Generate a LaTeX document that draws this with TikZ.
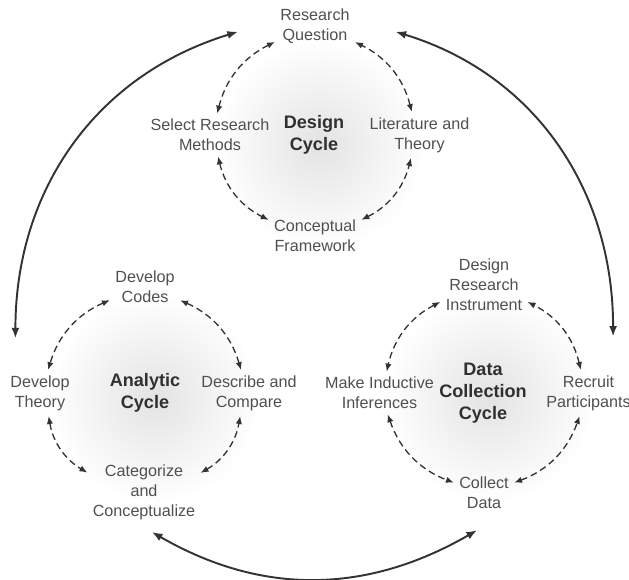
\documentclass[tikz,border=0pt]{standalone}
\usepackage{fontspec}
\setmainfont{Liberation Sans}
\usepackage{xcolor}
\usetikzlibrary{arrows.meta}
\tikzset{>={Latex[length=4.5pt,width=3.6pt]}}
\definecolor{stagegray}{HTML}{505050}
\definecolor{cyclegray}{HTML}{303030}
\definecolor{arrowgray}{HTML}{333333}

\begin{document}
\begin{tikzpicture}[x=0.02cm, y=0.02cm,
    stage/.style={align=center, text=stagegray, font=\fontsize{9.2}{11.3}\selectfont, inner sep=2pt},
    cyclename/.style={align=center, text=cyclegray, font=\bfseries\fontsize{10.3}{12.5}\selectfont},
    dasharrow/.style={<->, arrowgray, line width=0.75pt, dash pattern=on 3.8pt off 2.3pt, shorten <=1pt, shorten >=1pt},
    bigarrow/.style={<->, >={Latex[length=6pt,width=4.6pt]}, arrowgray, line width=1.1pt}]
  % Frame
  \fill[white] (0,0) rectangle (629,-579);
  \useasboundingbox (0,0) rectangle (629,-579);
  % Glows
  \shade[inner color=black!11, outer color=white] (320,-145) circle (105);
  \shade[inner color=black!11, outer color=white] (155,-398) circle (105);
  \shade[inner color=black!11, outer color=white] (490,-398) circle (105);

  % Design cycle
  \node[cyclename] (dcyc) at (314,-135) {Design\\Cycle};
  \node[stage] (rq)  at (315,-26.5) {Research\\Question};
  \node[stage] (srm) at (210,-135) {Select Research\\Methods};
  \node[stage] (lit) at (419.5,-135) {Literature and\\Theory};
  \node[stage] (cf)  at (315,-236) {Conceptual\\Framework};

  % Analytic cycle
  \node[cyclename] (acyc) at (145,-393) {Analytic\\Cycle};
  \node[stage] (dcodes)  at (145,-287) {Develop\\Codes};
  \node[stage] (dtheory) at (40,-393) {Develop\\Theory};
  \node[stage] (desc)    at (249,-393) {Describe and\\Compare};
  \node[stage] (cat)     at (144,-492) {Categorize\\and\\Conceptualize};

  % Data collection cycle
  \node[cyclename] (dccyc) at (483,-393) {Data\\Collection\\Cycle};
  \node[stage] (dri)  at (484,-285) {Design\\Research\\Instrument};
  \node[stage] (mii)  at (379.5,-393) {Make Inductive\\Inferences};
  \node[stage] (rp)   at (588.5,-393) {Recruit\\Participants};
  \node[stage] (coll) at (484,-493) {Collect\\Data};

  % Dashed arrows
  \draw[dasharrow] (rq) to[bend right=25] (srm);
  \draw[dasharrow] (srm) to[bend right=25] (cf);
  \draw[dasharrow] (cf) to[bend right=25] (lit);
  \draw[dasharrow] (lit) to[bend right=25] (rq);

  \draw[dasharrow] (dcodes) to[bend right=25] (dtheory);
  \draw[dasharrow] (dtheory) to[bend right=25] (cat);
  \draw[dasharrow] (cat) to[bend right=25] (desc);
  \draw[dasharrow] (desc) to[bend right=25] (dcodes);

  \draw[dasharrow] (dri) to[bend right=25] (mii);
  \draw[dasharrow] (mii) to[bend right=25] (coll);
  \draw[dasharrow] (coll) to[bend right=25] (rp);
  \draw[dasharrow] (rp) to[bend right=25] (dri);

  % Solid arrows between cycles
  \draw[bigarrow] ([xshift=-22pt, yshift=-3pt]rq.west) to[out=197, in=90] ([xshift=-14pt, yshift=19pt]dtheory.north);
  \draw[bigarrow] ([xshift=24pt, yshift=-3pt]rq.east) to[out=-17, in=90] ([xshift=14pt, yshift=20pt]rp.north);
  \draw[bigarrow] ([xshift=4.5pt, yshift=-5pt]cat.south) to[out=-30, in=210] ([xshift=-4pt, yshift=-10pt]coll.south);
\end{tikzpicture}
\end{document}
